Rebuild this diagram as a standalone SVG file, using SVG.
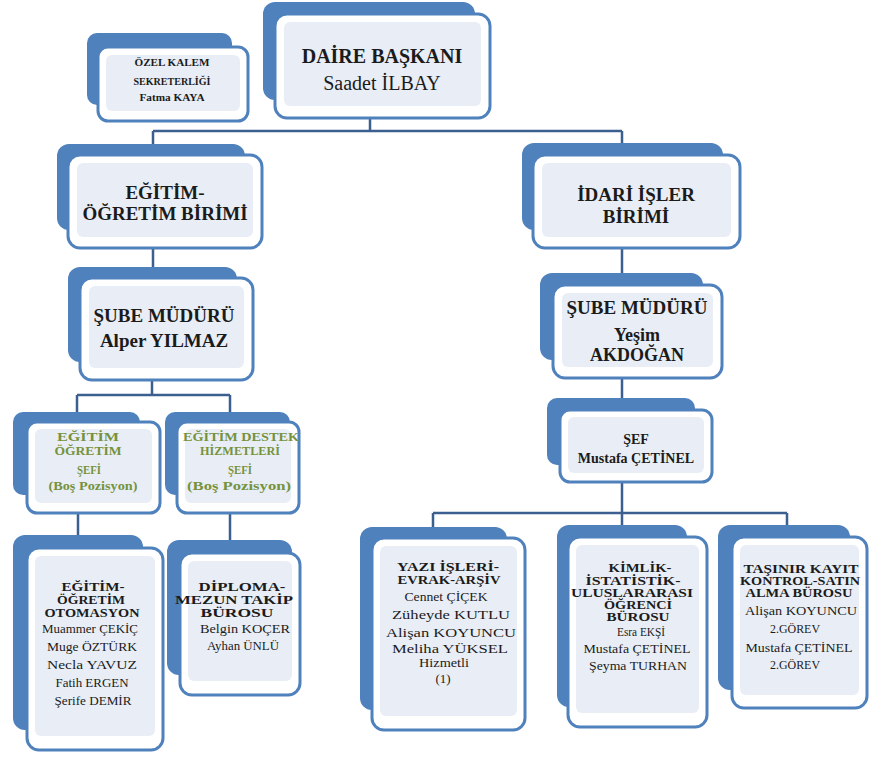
<svg xmlns="http://www.w3.org/2000/svg" width="889" height="758" viewBox="0 0 889 758">
<style>
.bk{fill:#4f81bd}
.fr{fill:#ffffff;stroke:#4f81bd;stroke-width:3}
.in{fill:#e9eef6}
.cn{fill:none;stroke:#3b5f8e;stroke-width:2.5}
text{font-family:"Liberation Serif","DejaVu Serif","Times New Roman",serif;text-anchor:middle;fill:#1b1b1b}
.b{font-weight:bold}
.g{fill:#76923c;font-weight:bold}
.h{font-weight:bold;font-size:11.5px}
.n{font-size:13px}
</style>
<rect width="889" height="758" fill="#ffffff"/>
<g id="connectors">
<path class="cn" d="M370 118V131M153 131H622M153 131V144M622 131V143"/>
<path class="cn" d="M153 248V267M622 248V273"/>
<path class="cn" d="M152 380V395M77 395H230M77 395V412M230 395V412"/>
<path class="cn" d="M78 513V535M230 513V540"/>
<path class="cn" d="M622 378V398M622 482V513M433 513H787M433 513V527M622 513V525M787 513V525"/>
</g>
<g id="daire">
<rect class="bk" x="263" y="2" width="212" height="98" rx="12"/>
<rect class="fr" x="275" y="14" width="215" height="104" rx="12"/>
<rect class="in" x="284" y="22" width="197" height="84" rx="6"/>
<text class="b" x="382" y="63" font-size="20">DAİRE BAŞKANI</text>
<text x="382" y="90" font-size="20">Saadet İLBAY</text>
</g>
<g id="ozel">
<rect class="bk" x="87" y="33" width="145" height="72" rx="10"/>
<rect class="fr" x="98" y="47" width="150" height="74" rx="10"/>
<rect class="in" x="106" y="55" width="134" height="56" rx="6"/>
<text class="b" x="172" y="66" font-size="10" textLength="75" lengthAdjust="spacingAndGlyphs">ÖZEL  KALEM</text>
<text class="b" x="172" y="85" font-size="10" textLength="77" lengthAdjust="spacingAndGlyphs">SEKRETERLİĞİ</text>
<text class="b" x="172" y="101" font-size="10" textLength="65" lengthAdjust="spacingAndGlyphs">Fatma  KAYA</text>
</g>
<g id="egitim-birimi">
<rect class="bk" x="57" y="144" width="188" height="86" rx="12"/>
<rect class="fr" x="68" y="155" width="194" height="93" rx="12"/>
<rect class="in" x="77" y="163" width="176" height="74" rx="6"/>
<text class="b" x="165" y="199" font-size="19">EĞİTİM-</text>
<text class="b" x="165" y="220" font-size="19">ÖĞRETİM  BİRİMİ</text>
</g>
<g id="sube-sol">
<rect class="bk" x="68" y="267" width="169" height="95" rx="12"/>
<rect class="fr" x="80" y="278" width="173" height="102" rx="12"/>
<rect class="in" x="89" y="286" width="155" height="82" rx="6"/>
<text class="b" x="164" y="322" font-size="19">ŞUBE MÜDÜRÜ</text>
<text class="b" x="164" y="347" font-size="19">Alper YILMAZ</text>
</g>
<g id="idari-birimi">
<rect class="bk" x="522" y="143" width="201" height="87" rx="12"/>
<rect class="fr" x="533" y="155" width="207" height="93" rx="12"/>
<rect class="in" x="542" y="163" width="189" height="74" rx="6"/>
<text class="b" x="636" y="201" font-size="19">İDARİ  İŞLER</text>
<text class="b" x="636" y="223" font-size="19">BİRİMİ</text>
</g>
<g id="sube-sag">
<rect class="bk" x="540" y="273" width="163" height="87" rx="12"/>
<rect class="fr" x="553" y="285" width="169" height="93" rx="12"/>
<rect class="in" x="562" y="293" width="151" height="74" rx="6"/>
<text class="b" x="637" y="314" font-size="19">ŞUBE MÜDÜRÜ</text>
<text class="b" x="637" y="341" font-size="18">Yeşim</text>
<text class="b" x="637" y="361" font-size="18">AKDOĞAN</text>
</g>
<g id="sef">
<rect class="bk" x="547" y="398" width="148" height="67" rx="10"/>
<rect class="fr" x="560" y="410" width="152" height="72" rx="10"/>
<rect class="in" x="568" y="417" width="136" height="56" rx="6"/>
<text class="b" x="636" y="444" font-size="14">ŞEF</text>
<text class="b" x="636" y="463" font-size="14">Mustafa ÇETİNEL</text>
</g>
<g id="egitim-ogretim-sefi">
<rect class="bk" x="13" y="412" width="127" height="83" rx="10"/>
<rect class="fr" x="27" y="422" width="133" height="91" rx="10"/>
<rect class="in" x="35" y="429" width="117" height="74" rx="6"/>
<text class="g" x="88" y="441" font-size="12" textLength="62" lengthAdjust="spacingAndGlyphs">EĞİTİM</text>
<text class="g" x="88" y="455" font-size="12" textLength="67" lengthAdjust="spacingAndGlyphs">ÖĞRETİM</text>
<text class="g" x="89" y="474" font-size="12" textLength="24" lengthAdjust="spacingAndGlyphs">ŞEFİ</text>
<text class="g" x="93" y="490" font-size="12" textLength="89" lengthAdjust="spacingAndGlyphs">(Boş Pozisyon)</text>
</g>
<g id="egitim-destek-sefi">
<rect class="bk" x="165" y="412" width="125" height="83" rx="10"/>
<rect class="fr" x="177" y="422" width="122" height="91" rx="10"/>
<rect class="in" x="185" y="429" width="106" height="74" rx="6"/>
<text class="g" x="241" y="441" font-size="12" textLength="116" lengthAdjust="spacingAndGlyphs">EĞİTİM DESTEK</text>
<text class="g" x="240" y="455" font-size="12" textLength="80" lengthAdjust="spacingAndGlyphs">HİZMETLERİ</text>
<text class="g" x="240" y="474" font-size="12" textLength="24" lengthAdjust="spacingAndGlyphs">ŞEFİ</text>
<text class="g" x="239" y="490" font-size="12" textLength="104" lengthAdjust="spacingAndGlyphs">(Boş Pozisyon)</text>
</g>
<g id="otomasyon">
<rect class="bk" x="13" y="535" width="130" height="195" rx="12"/>
<rect class="fr" x="27" y="548" width="136" height="202" rx="12"/>
<rect class="in" x="35" y="556" width="120" height="180" rx="6"/>
<text class="h" x="93" y="591" textLength="63" lengthAdjust="spacingAndGlyphs">EĞİTİM-</text>
<text class="h" x="91" y="604" textLength="68" lengthAdjust="spacingAndGlyphs">ÖĞRETİM</text>
<text class="h" x="92" y="617" textLength="95" lengthAdjust="spacingAndGlyphs">OTOMASYON</text>
<text class="n" x="90" y="633" textLength="96" lengthAdjust="spacingAndGlyphs">Muammer ÇEKİÇ</text>
<text class="n" x="92" y="651" textLength="90" lengthAdjust="spacingAndGlyphs">Muge ÖZTÜRK</text>
<text class="n" x="92" y="669" textLength="90" lengthAdjust="spacingAndGlyphs">Necla  YAVUZ</text>
<text class="n" x="92" y="687" textLength="73" lengthAdjust="spacingAndGlyphs">Fatih ERGEN</text>
<text class="n" x="93" y="705" textLength="77" lengthAdjust="spacingAndGlyphs">Şerife DEMİR</text>
</g>
<g id="diploma">
<rect class="bk" x="167" y="540" width="125" height="135" rx="12"/>
<rect class="fr" x="180" y="553" width="120" height="142" rx="12"/>
<rect class="in" x="188" y="561" width="104" height="120" rx="6"/>
<text class="h" x="242" y="591" textLength="87" lengthAdjust="spacingAndGlyphs">DİPLOMA-</text>
<text class="h" x="234" y="604" textLength="118" lengthAdjust="spacingAndGlyphs">MEZUN TAKİP</text>
<text class="h" x="237" y="617" textLength="73" lengthAdjust="spacingAndGlyphs">BÜROSU</text>
<text class="n" x="245" y="633" textLength="90" lengthAdjust="spacingAndGlyphs">Belgin  KOÇER</text>
<text class="n" x="243" y="650" textLength="72" lengthAdjust="spacingAndGlyphs">Ayhan ÜNLÜ</text>
</g>
<g id="yazi-isleri">
<rect class="bk" x="360" y="527" width="147" height="183" rx="12"/>
<rect class="fr" x="372" y="538" width="153" height="192" rx="12"/>
<rect class="in" x="380" y="546" width="137" height="170" rx="6"/>
<text class="h" x="448" y="571" textLength="102" lengthAdjust="spacingAndGlyphs">YAZI İŞLERİ-</text>
<text class="h" x="449" y="584" textLength="103" lengthAdjust="spacingAndGlyphs">EVRAK-ARŞİV</text>
<text class="n" x="446" y="601" textLength="83" lengthAdjust="spacingAndGlyphs">Cennet  ÇİÇEK</text>
<text class="n" x="451" y="619" textLength="118" lengthAdjust="spacingAndGlyphs">Züheyde KUTLU</text>
<text class="n" x="451" y="637" textLength="130" lengthAdjust="spacingAndGlyphs">Alişan KOYUNCU</text>
<text x="450" y="653" font-size="12.5" textLength="116" lengthAdjust="spacingAndGlyphs">Meliha YÜKSEL</text>
<text x="444" y="667" font-size="12.5" textLength="50" lengthAdjust="spacingAndGlyphs">Hizmetli</text>
<text class="n" x="443" y="683">(1)</text>
</g>
<g id="kimlik">
<rect class="bk" x="557" y="525" width="130" height="182" rx="12"/>
<rect class="fr" x="568" y="537" width="139" height="190" rx="12"/>
<rect class="in" x="576" y="545" width="123" height="168" rx="6"/>
<text class="h" x="640" y="572" textLength="63" lengthAdjust="spacingAndGlyphs">KİMLİK-</text>
<text class="h" x="633" y="585" textLength="95" lengthAdjust="spacingAndGlyphs">İSTATİSTİK-</text>
<text class="h" x="632" y="597" textLength="122" lengthAdjust="spacingAndGlyphs">ULUSLARARASI</text>
<text class="h" x="638" y="609" textLength="68" lengthAdjust="spacingAndGlyphs">ÖĞRENCİ</text>
<text class="h" x="638" y="621" textLength="63" lengthAdjust="spacingAndGlyphs">BÜROSU</text>
<text class="n" x="641" y="636" textLength="48" lengthAdjust="spacingAndGlyphs">Esra EKŞİ</text>
<text class="n" x="637" y="653" textLength="107" lengthAdjust="spacingAndGlyphs">Mustafa ÇETİNEL</text>
<text class="n" x="638" y="670" textLength="98" lengthAdjust="spacingAndGlyphs">Şeyma TURHAN</text>
</g>
<g id="tasinir">
<rect class="bk" x="718" y="525" width="132" height="165" rx="12"/>
<rect class="fr" x="732" y="537" width="135" height="171" rx="12"/>
<rect class="in" x="740" y="545" width="119" height="150" rx="6"/>
<text class="h" x="801" y="573" textLength="115" lengthAdjust="spacingAndGlyphs">TAŞINIR KAYIT</text>
<text class="h" x="800" y="585" textLength="120" lengthAdjust="spacingAndGlyphs">KONTROL-SATIN</text>
<text class="h" x="799" y="597" textLength="107" lengthAdjust="spacingAndGlyphs">ALMA BÜROSU</text>
<text class="n" x="801" y="615" textLength="112" lengthAdjust="spacingAndGlyphs">Alişan KOYUNCU</text>
<text class="n" x="795" y="633" textLength="50" lengthAdjust="spacingAndGlyphs">2.GÖREV</text>
<text class="n" x="799" y="652" textLength="107" lengthAdjust="spacingAndGlyphs">Mustafa ÇETİNEL</text>
<text class="n" x="795" y="669" textLength="50" lengthAdjust="spacingAndGlyphs">2.GÖREV</text>
</g>
</svg>
